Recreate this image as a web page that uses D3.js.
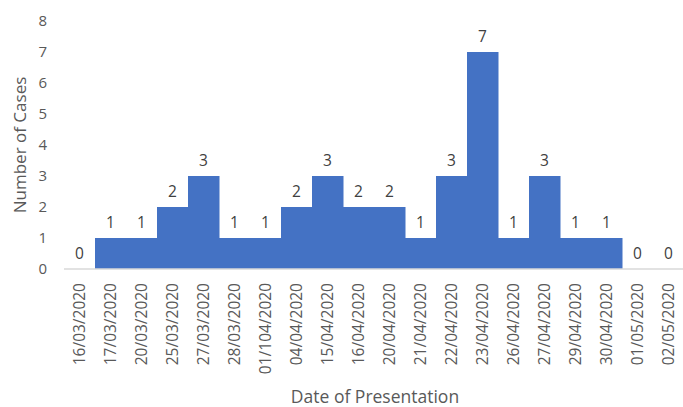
<!DOCTYPE html>
<html>
<head>
<meta charset="utf-8">
<script src="https://cdn.jsdelivr.net/npm/d3@7"></script>
<style>
  body { margin: 0; background: #fff; }
  text { font-family: "Open Sans", "Liberation Sans", sans-serif; }
</style>
</head>
<body>
<div id="chart"></div>
<script>
const dates = [
    "16/03/2020", "17/03/2020", "20/03/2020", "25/03/2020", "27/03/2020",
    "28/03/2020", "01/104/2020", "04/04/2020", "15/04/2020", "16/04/2020",
    "20/04/2020", "21/04/2020", "22/04/2020", "23/04/2020", "26/04/2020",
    "27/04/2020", "29/04/2020", "30/04/2020", "01/05/2020", "02/05/2020"
];
const cases = [0, 1, 1, 2, 3, 1, 1, 2, 3, 2, 2, 1, 3, 7, 1, 3, 1, 1, 0, 0];
const yTicks = [0, 1, 2, 3, 4, 5, 6, 7, 8];

const W = 683, H = 407;
const margin = { top: 21, right: 0, bottom: 138, left: 64 };
const width = 620;
const height = H - margin.top - margin.bottom;

const data = dates.map((d, i) => ({ date: d, value: cases[i] }));

const svg = d3.select("#chart")
    .append("svg")
    .attr("width", W)
    .attr("height", H);

const g = svg.append("g")
    .attr("transform", `translate(${margin.left},${margin.top})`);

const x = d3.scaleBand().domain(dates).range([0, width]).padding(0);
const y = d3.scaleLinear().domain([0, 8]).range([height, 0]);

// bars
g.selectAll("rect.bar")
    .data(data)
    .enter()
    .append("rect")
    .attr("class", "bar")
    .attr("x", d => x(d.date))
    .attr("y", d => y(d.value))
    .attr("width", x.bandwidth() + 0.5)
    .attr("height", d => height - y(d.value))
    .attr("fill", "#4472C4");

// baseline
g.append("line")
    .attr("x1", 0)
    .attr("x2", width)
    .attr("y1", y(0))
    .attr("y2", y(0))
    .attr("stroke", "#d9d9d9")
    .attr("stroke-width", 1.5);

// y axis (labels only)
const yAxis = g.append("g")
    .call(d3.axisLeft(y).tickValues(yTicks).tickSize(0).tickPadding(17));
yAxis.select(".domain").remove();
yAxis.selectAll("text")
    .attr("fill", "#595959")
    .style("font-size", "15px");

// x axis (rotated labels)
const xAxis = g.append("g")
    .attr("transform", `translate(0,${height})`)
    .call(d3.axisBottom(x).tickSize(0));
xAxis.select(".domain").remove();
xAxis.selectAll("text")
    .attr("transform", "rotate(-90)")
    .attr("x", -14)
    .attr("y", 0)
    .attr("dy", "0.35em")
    .style("text-anchor", "end")
    .attr("fill", "#595959")
    .style("font-size", "15.5px");

// value labels
g.selectAll("text.value")
    .data(data)
    .enter()
    .append("text")
    .attr("class", "value")
    .attr("x", d => x(d.date) + x.bandwidth() / 2)
    .attr("y", d => y(d.value) - 10)
    .attr("text-anchor", "middle")
    .attr("fill", "#404040")
    .style("font-size", "15.5px")
    .text(d => d.value);

// axis titles
svg.append("text")
    .attr("transform", `translate(26,145) rotate(-90)`)
    .attr("text-anchor", "middle")
    .attr("fill", "#595959")
    .style("font-size", "17px")
    .text("Number of Cases");

svg.append("text")
    .attr("x", 375)
    .attr("y", 403)
    .attr("text-anchor", "middle")
    .attr("fill", "#595959")
    .style("font-size", "17.5px")
    .text("Date of Presentation");
</script>
</body>
</html>
